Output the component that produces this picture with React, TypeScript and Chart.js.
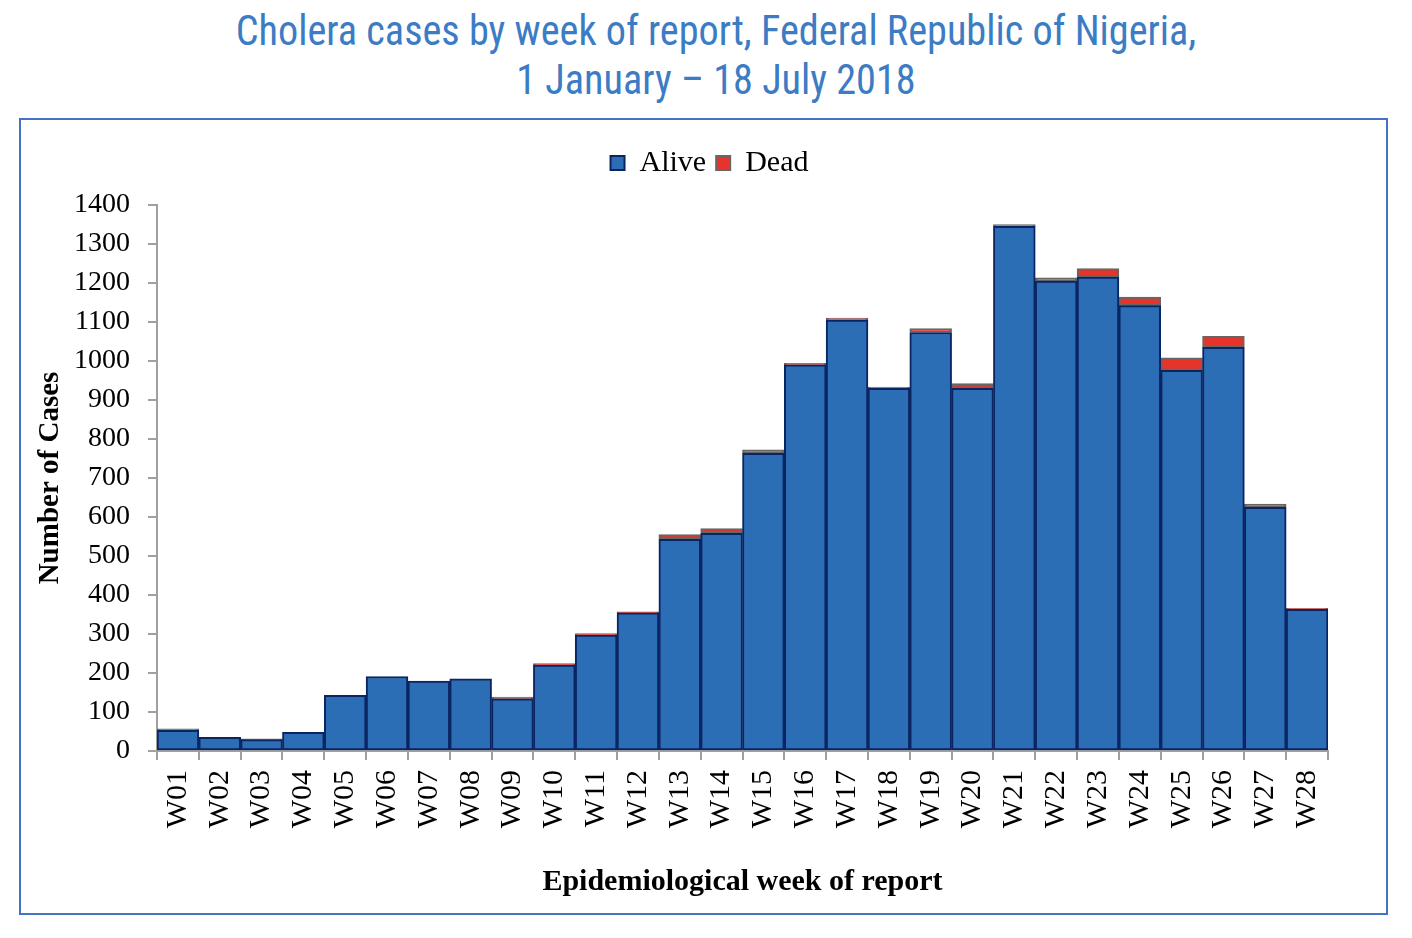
import React, { useEffect, useRef } from "react";
import { Chart, registerables } from "chart.js";

Chart.register(...registerables);

const weeks = [
  "W01", "W02", "W03", "W04", "W05", "W06", "W07", "W08", "W09", "W10",
  "W11", "W12", "W13", "W14", "W15", "W16", "W17", "W18", "W19", "W20",
  "W21", "W22", "W23", "W24", "W25", "W26", "W27", "W28",
];

const alive = [
  53, 35, 29, 48, 143, 191, 179, 185, 134, 220,
  297, 354, 543, 558, 763, 990, 1105, 930, 1073, 930,
  1345, 1205, 1215, 1142, 976, 1035, 625, 363,
];

const dead = [
  4, 0, 2, 0, 0, 0, 0, 0, 4, 4,
  4, 3, 12, 12, 9, 4, 5, 3, 10, 12,
  5, 8, 22, 22, 32, 28, 8, 3,
];

const serif = "'Liberation Serif', 'Times New Roman', serif";

// room under the legend, and legend centred on the whole canvas
const legendGap = {
  id: "legendGap",
  beforeUpdate(chart: any) {
    const legend = chart.legend;
    if (legend && !legend._gapPatched) {
      const fit = legend.fit;
      legend.fit = function () {
        fit.call(this);
        this.height += 17;
      };
      legend._gapPatched = true;
    }
  },
  afterLayout(chart: any) {
    if (chart.legend) {
      chart.legend.right += 70;
    }
  },
};

const CholeraChart: React.FC = () => {
  const chartRef = useRef<HTMLCanvasElement>(null);

  useEffect(() => {
    let chartInstance: Chart | null = null;
    if (chartRef.current) {
      chartInstance = new Chart(chartRef.current, {
        type: "bar",
        data: {
          labels: weeks,
          datasets: [
            {
              label: "Alive",
              data: alive,
              backgroundColor: "#2b6eb6",
              borderColor: "#0b2462",
              borderWidth: 2,
              borderSkipped: false,
              barPercentage: 1,
              categoryPercentage: 1,
            },
            {
              label: "Dead",
              data: dead,
              backgroundColor: "#e7342a",
              borderColor: "#666666",
              borderWidth: 2,
              borderSkipped: false,
              barPercentage: 1,
              categoryPercentage: 1,
            },
          ],
        },
        options: {
          animation: false,
          responsive: true,
          maintainAspectRatio: false,
          layout: { padding: { top: 18, right: 58, bottom: 0, left: 0 } },
          plugins: {
            legend: {
              position: "top",
              labels: {
                font: { family: serif, size: 30 },
                color: "#000",
                boxWidth: 14,
                boxHeight: 14,
                padding: 10,
              },
            },
            tooltip: { enabled: false },
          },
          scales: {
            x: {
              stacked: true,
              grid: {
                drawOnChartArea: false,
                drawTicks: true,
                tickLength: 9,
                color: "#a0a0a0",
                lineWidth: 2,
              },
              border: { color: "#a0a0a0", width: 2 },
              ticks: {
                font: { family: serif, size: 30 },
                color: "#000",
                minRotation: 90,
                maxRotation: 90,
                padding: 10,
                autoSkip: false,
              },
              title: {
                display: true,
                text: "Epidemiological week of report",
                font: { family: serif, size: 30, weight: "bold" },
                color: "#000",
                padding: { top: 0, bottom: 13 },
              },
              afterFit: (scale: any) => {
                scale.height = 162;
              },
            },
            y: {
              stacked: true,
              min: 0,
              max: 1400,
              grid: {
                drawOnChartArea: false,
                drawTicks: true,
                tickLength: 9,
                color: "#a0a0a0",
                lineWidth: 2,
              },
              border: { color: "#a0a0a0", width: 2 },
              ticks: {
                stepSize: 100,
                font: { family: serif, size: 28 },
                color: "#000",
                padding: 18,
                callback: (value: any) => String(value),
              },
              title: {
                display: true,
                text: "Number of Cases",
                font: { family: serif, size: 29, weight: "bold" },
                color: "#000",
                padding: { top: 12, bottom: 0 },
              },
              afterFit: (scale: any) => {
                scale.width = 136;
              },
            },
          },
        },
        plugins: [legendGap],
      });
    }
    return () => {
      if (chartInstance) {
        chartInstance.destroy();
      }
    };
  }, []);

  return <canvas ref={chartRef} />;
};

const App: React.FC = () => {
  return (
    <div style={{ position: "absolute", left: 0, top: 0, width: 1412, height: 938, background: "#fff" }}>
      <div
        style={{
          position: "absolute",
          left: 10,
          top: 6,
          width: 1412,
          textAlign: "center",
          fontFamily: "'Liberation Sans Narrow', 'Roboto Condensed', 'DejaVu Sans Condensed', sans-serif",
          fontSize: 42,
          lineHeight: "49px",
          color: "#3b7cc4",
          transform: "scaleX(0.958)",
          transformOrigin: "center",
        }}
      >
        Cholera cases by week of report, Federal Republic of Nigeria,
        <br />1 January – 18 July 2018
      </div>
      <div
        style={{
          position: "absolute",
          left: 19,
          top: 118,
          width: 1369,
          height: 797,
          boxSizing: "border-box",
          border: "2px solid #4472c4",
        }}
      >
        <div style={{ position: "relative", width: 1365, height: 793 }}>
          <CholeraChart />
        </div>
      </div>
    </div>
  );
};

export default App;
